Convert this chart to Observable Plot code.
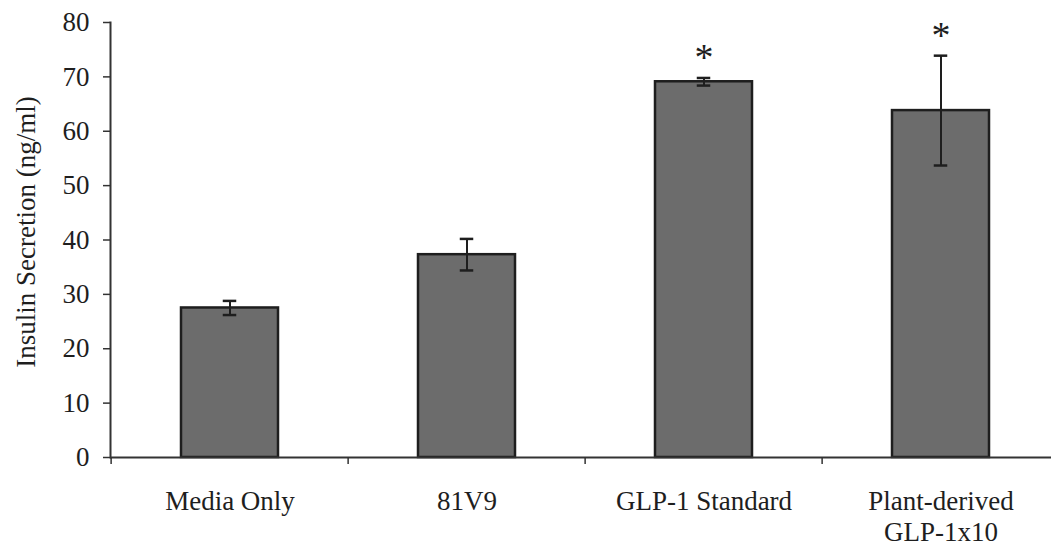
<!DOCTYPE html>
<html>
<head>
<meta charset="utf-8">
<script src="https://cdn.jsdelivr.net/npm/d3@7"></script>
<script src="https://cdn.jsdelivr.net/npm/@observablehq/plot@0.6"></script>
<style>
  html, body { margin: 0; padding: 0; background: #fff; overflow: hidden; }
  #chart svg { display: block; }
</style>
</head>
<body>
<div id="chart"></div>
<script>
const categories = ["Media Only", "81V9", "GLP-1 Standard", "Plant-derived\nGLP-1x10"];
const means = [27.5, 37.3, 69.1, 63.8];
const errors = [1.3, 2.9, 0.7, 10.1];
const significant = [false, false, true, true];
const yTicks = [0, 10, 20, 30, 40, 50, 60, 70, 80];
const yLabel = "Insulin Secretion (ng/ml)";

const data = categories.map((c, i) => ({
  c, mean: means[i], lo: means[i] - errors[i], hi: means[i] + errors[i], sig: significant[i]
}));

const W = 1051, H = 548, ML = 110, MR = -10;
const step = (W - ML - MR) / categories.length;
const ink = "#1e1e1e";

const chart = Plot.plot({
  width: W,
  height: H,
  marginLeft: ML,
  marginRight: MR,
  marginTop: 22,
  marginBottom: 91,
  style: {fontFamily: "'Liberation Serif', 'Times New Roman', serif", fontSize: "27px", color: ink, background: "#fff"},
  x: {domain: categories, paddingInner: 0.59, paddingOuter: 0.295, label: null},
  y: {domain: [0, 80], label: null},
  marks: [
    Plot.barY(data, {x: "c", y: "mean", fill: "#6c6c6c", stroke: ink, strokeWidth: 2.5}),
    Plot.ruleX(data, {x: "c", y1: "lo", y2: "hi", stroke: ink, strokeWidth: 2}),
    Plot.tickY(data, {x: "c", y: "lo", stroke: ink, strokeWidth: 2.5, insetLeft: 41.75, insetRight: 41.75}),
    Plot.tickY(data, {x: "c", y: "hi", stroke: ink, strokeWidth: 2.5, insetLeft: 41.75, insetRight: 41.75}),
    Plot.text(data.filter(d => d.sig), {x: "c", y: "hi", text: () => "*", fontSize: 38, dy: -20, lineAnchor: "middle", fill: ink}),
    Plot.ruleY([0], {stroke: "#333", strokeWidth: 2}),
    Plot.frame({anchor: "left", stroke: "#333", strokeWidth: 2}),
    Plot.axisY({ticks: yTicks, tickSize: 7, tickPadding: 14, fontSize: 27, stroke: "#333", strokeWidth: 1.5, label: null}),
    Plot.text([yLabel], {frameAnchor: "left", rotate: -90, dx: -84, dy: -8, fontSize: 27, textAnchor: "middle", lineAnchor: "middle", fill: ink}),
    Plot.axisX({tickSize: 0, tickPadding: 30, fontSize: 27, lineHeight: 1.15, label: null}),
    Plot.axisX({tickSize: 7, tickFormat: () => "", dx: -step / 2, stroke: "#333", strokeWidth: 1.5, label: null})
  ]
});
document.getElementById("chart").appendChild(chart);
</script>
</body>
</html>
